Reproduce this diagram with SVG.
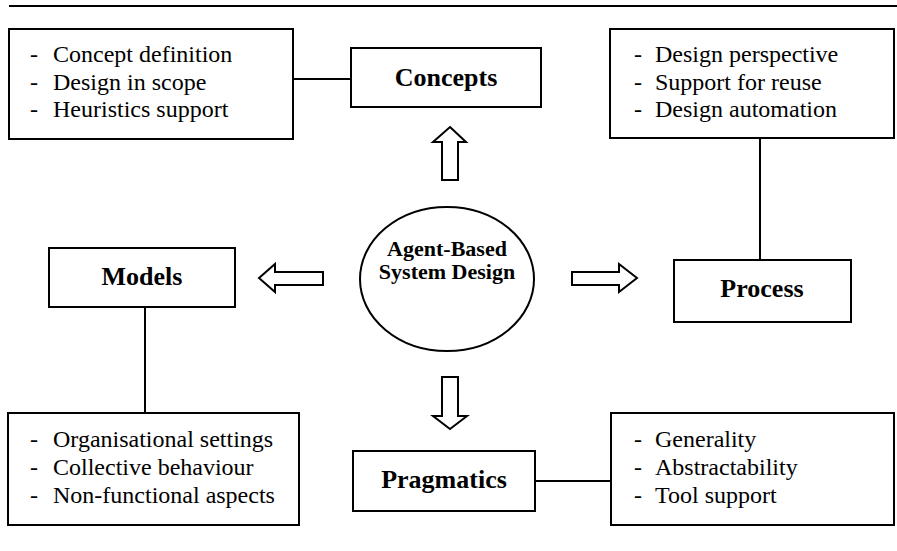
<svg xmlns="http://www.w3.org/2000/svg" width="897" height="551" viewBox="0 0 897 551">
<style>
.box{fill:#fff;stroke:#000;stroke-width:2}
.arr{fill:#fff;stroke:#000;stroke-width:2;stroke-linejoin:miter}
.ln{stroke:#000;stroke-width:2;fill:none}
text{font-family:'Liberation Serif','Times New Roman',Tinos,'DejaVu Serif',serif;fill:#000}
.lst{font-size:24px}
.lbl{font-size:26px;font-weight:bold;text-anchor:middle}
.ctr{font-size:22px;font-weight:bold;text-anchor:middle}
</style>
<rect width="897" height="551" fill="#fff"/>
<line x1="9" y1="6" x2="897" y2="6" class="ln"/>
<g id="connectors">
<line x1="293" y1="79" x2="351" y2="79" class="ln"/>
<line x1="760" y1="138" x2="760" y2="260" class="ln"/>
<line x1="145" y1="307" x2="145" y2="413" class="ln"/>
<line x1="535" y1="481" x2="611" y2="481" class="ln"/>
<polygon class="arr" points="450,127 466,142 458,142 458,180 442,180 442,142 433,142"/>
<polygon class="arr" points="259,278 275,264 275,272 323,272 323,285 275,285 275,292"/>
<polygon class="arr" points="637,278 619,264 619,272 572,272 572,285 619,285 619,292"/>
<polygon class="arr" points="450,429 467,416 458,416 458,377 442,377 442,416 433,416"/>
</g>
<g id="concepts-list">
<rect x="9" y="29" width="284" height="110" class="box"/>
<text class="lst" x="30" y="62" font-family="Liberation Serif, Times New Roman, serif">-</text><text class="lst" x="53" y="62" font-family="Liberation Serif, Times New Roman, serif">Concept definition</text>
<text class="lst" x="30" y="90">-</text><text class="lst" x="53" y="90">Design in scope</text>
<text class="lst" x="30" y="117">-</text><text class="lst" x="53" y="117">Heuristics support</text>
</g>
<g id="concepts">
<rect x="351" y="48" width="190" height="59" class="box"/>
<text class="lbl" x="446" y="86">Concepts</text>
</g>
<g id="process-list">
<rect x="610" y="29" width="284" height="109" class="box"/>
<text class="lst" x="634" y="62">-</text><text class="lst" x="655" y="62">Design perspective</text>
<text class="lst" x="634" y="90">-</text><text class="lst" x="655" y="90">Support for reuse</text>
<text class="lst" x="634" y="117">-</text><text class="lst" x="655" y="117">Design automation</text>
</g>
<g id="models">
<rect x="49" y="248" width="186" height="59" class="box"/>
<text class="lbl" x="142" y="285">Models</text>
</g>
<g id="center">
<ellipse cx="447" cy="279" rx="87" ry="72" class="box"/>
<text class="ctr" x="447" y="256">Agent-Based</text>
<text class="ctr" x="447" y="279">System Design</text>
</g>
<g id="process">
<rect x="674" y="260" width="177" height="62" class="box"/>
<text class="lbl" x="762" y="297">Process</text>
</g>
<g id="models-list">
<rect x="8" y="413" width="291" height="112" class="box"/>
<text class="lst" x="30" y="447">-</text><text class="lst" x="53" y="447">Organisational settings</text>
<text class="lst" x="30" y="475">-</text><text class="lst" x="53" y="475">Collective behaviour</text>
<text class="lst" x="30" y="503">-</text><text class="lst" x="53" y="503">Non-functional aspects</text>
</g>
<g id="pragmatics">
<rect x="353" y="451" width="182" height="60" class="box"/>
<text class="lbl" x="444" y="488">Pragmatics</text>
</g>
<g id="pragmatics-list">
<rect x="611" y="413" width="283" height="112" class="box"/>
<text class="lst" x="634" y="447">-</text><text class="lst" x="655" y="447">Generality</text>
<text class="lst" x="634" y="475">-</text><text class="lst" x="655" y="475">Abstractability</text>
<text class="lst" x="634" y="503">-</text><text class="lst" x="655" y="503">Tool support</text>
</g>
</svg>
